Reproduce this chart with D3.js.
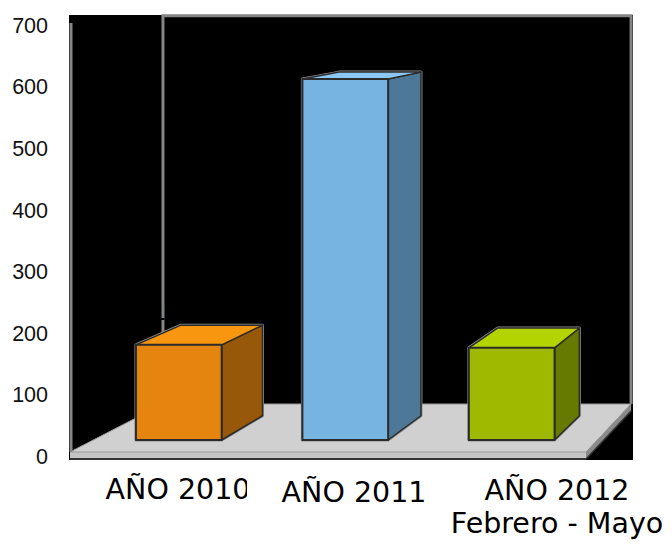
<!DOCTYPE html>
<html>
<head>
<meta charset="utf-8">
<script src="https://cdn.jsdelivr.net/npm/d3@7"></script>
<style>
  html, body { margin: 0; padding: 0; background: #ffffff; }
  svg { display: block; }
</style>
</head>
<body>
<svg id="chart" width="672" height="545"></svg>
<script>
// ---- data ----
const categories = ["AÑO 2010", "AÑO 2011", "AÑO 2012"];
const values = [159, 603, 154];
const yTicks = [0, 100, 200, 300, 400, 500, 600, 700];
const subtitle = "Febrero - Mayo";

// ---- layout / style ----
const W = 672, H = 545;
const VP = [1072, -65];          // vanishing point of the 3D view
const kFloorBack = 0.0928;       // depth of back wall
const kBarFront = 0.0232;        // depth of bar front faces
const kBarBack = 0.0701;         // depth of bar back faces
const faceColors = [
  { front: "#E5840F", top: "#F8960F", side: "#985809" },
  { front: "#77B4E2", top: "#8CC8F5", side: "#4D7898" },
  { front: "#9EB900", top: "#B4D400", side: "#667900" }
];
const labelLayout = [
  { x: 178, y: 499, clip: 247 },
  { x: 354, y: 502, clip: null },
  { x: 557, y: 500, clip: null }
];

const svg = d3.select("#chart");

const x = d3.scaleBand().domain(categories).range([70, 586])
  .paddingInner(0.485).paddingOuter(0.2566);
const y = d3.scaleLinear().domain([0, 700]).range([452, 23]);
const yLabel = d3.scaleLinear().domain([0, 700]).range([456.5, 25.5]);

function P(px, py, k) {
  return [px + k * (VP[0] - px), py + k * (VP[1] - py)];
}
const line = pts => "M" + pts.map(p => p[0].toFixed(2) + "," + p[1].toFixed(2)).join("L") + "Z";

// background (black walls)
svg.append("rect").attr("x", 69).attr("y", 15).attr("width", 564).attr("height", 445)
  .attr("fill", "#000000");

const xL = x.range()[0], xR = x.range()[1];
const y0 = y(0), yTop = y(700);

// floor slab
const fFL = P(xL, y0, 0), fFR = P(xR, y0, 0), fBR = P(xR, y0, kFloorBack), fBL = P(xL, y0, kFloorBack);
const th = 7;
svg.append("path").attr("d", line([fFL, fFR, [fFR[0], fFR[1] + th], [fFL[0], fFL[1] + th]]))
  .attr("fill", "#c4c4c4");
svg.append("path").attr("d", line([fFR, fBR, [fBR[0], fBR[1] + th], [fFR[0], fFR[1] + th]]))
  .attr("fill", "#8a8a8a");
svg.append("path").attr("d", line([fFL, fFR, fBR, fBL]))
  .attr("fill", "#d0d0d0").attr("stroke", "#9a9a9a").attr("stroke-width", 1);
svg.append("line").attr("x1", fFL[0]).attr("x2", fFR[0]).attr("y1", fFL[1] + th).attr("y2", fFR[1] + th)
  .attr("stroke", "#333").attr("stroke-width", 2);
svg.append("line").attr("x1", fFR[0]).attr("x2", fBR[0]).attr("y1", fFR[1] + th).attr("y2", fBR[1] + th)
  .attr("stroke", "#333").attr("stroke-width", 1.5);

// wall edges (grey lines)
const bTL = P(xL, yTop, kFloorBack), bTR = P(xR, yTop, kFloorBack);
const wallG = svg.append("g").attr("stroke", "#858585").attr("stroke-width", 3).attr("fill", "none");
wallG.append("path").attr("d", `M${fBL[0]},${fBL[1]}L${bTL[0]},${bTL[1] + 1}L${bTR[0]},${bTR[1] + 1}L${bTR[0]},${fBR[1]}`);
wallG.append("line").attr("x1", xL + 1).attr("x2", xL + 1).attr("y1", yTop).attr("y2", y0);

// bars
const bars = svg.append("g");
categories.forEach((c, i) => {
  const x0 = x(c), x1 = x(c) + x.bandwidth();
  const yb = y(0), yt = y(values[i]);
  const FTL = P(x0, yt, kBarFront), FTR = P(x1, yt, kBarFront),
        FBR = P(x1, yb, kBarFront), FBL = P(x0, yb, kBarFront);
  const BTL = P(x0, yt, kBarBack), BTR = P(x1, yt, kBarBack),
        BBR = P(x1, yb, kBarBack);
  const g = bars.append("g");
  g.append("path").attr("d", line([FBL, FTL, BTL, BTR, BBR, FBR]))
    .attr("fill", "none").attr("stroke", "#8f8f8f").attr("stroke-width", 3).attr("stroke-linejoin", "round");
  g.append("path").attr("d", line([FTR, BTR, BBR, FBR]))
    .attr("fill", faceColors[i].side).attr("stroke", "#2b2b2b").attr("stroke-width", 1.5).attr("stroke-linejoin", "round");
  g.append("path").attr("d", line([FTL, BTL, BTR, FTR]))
    .attr("fill", faceColors[i].top).attr("stroke", "#2b2b2b").attr("stroke-width", 1.5).attr("stroke-linejoin", "round");
  g.append("path").attr("d", line([FTL, FTR, FBR, FBL]))
    .attr("fill", faceColors[i].front).attr("stroke", "#2b2b2b").attr("stroke-width", 2).attr("stroke-linejoin", "round");
  // data label (black text — only visible where it crosses the grey wall edge)
  g.append("text").attr("x", FTL[0] + 16).attr("y", FTL[1] - 25)
    .attr("font-family", "DejaVu Sans").attr("font-size", 23).attr("fill", "#000000")
    .text(values[i]);
});

// y axis labels
const yAxis = svg.append("g").attr("transform", "translate(48,0)")
  .call(d3.axisLeft(yLabel).tickValues(yTicks).tickSize(0).tickPadding(0).tickFormat(d3.format("d")));
yAxis.select(".domain").remove();
yAxis.selectAll("text").attr("font-family", "Liberation Sans, Arial, sans-serif")
  .attr("font-size", 21.5).attr("fill", "#111");

// category labels
const defs = svg.append("defs");
categories.forEach((c, i) => {
  const L = labelLayout[i];
  const t = svg.append("text").attr("x", L.x).attr("y", L.y).attr("text-anchor", "middle")
    .attr("font-family", "DejaVu Sans").attr("font-size", 28.5).attr("fill", "#000").text(c);
  if (L.clip) {
    defs.append("clipPath").attr("id", "clip" + i).append("rect")
      .attr("x", 0).attr("y", 0).attr("width", L.clip).attr("height", H);
    t.attr("clip-path", `url(#clip${i})`);
  }
});
svg.append("text").attr("x", labelLayout[2].x).attr("y", 533).attr("text-anchor", "middle")
  .attr("font-family", "DejaVu Sans").attr("font-size", 28.5).attr("fill", "#000").text(subtitle);
</script>
</body>
</html>
